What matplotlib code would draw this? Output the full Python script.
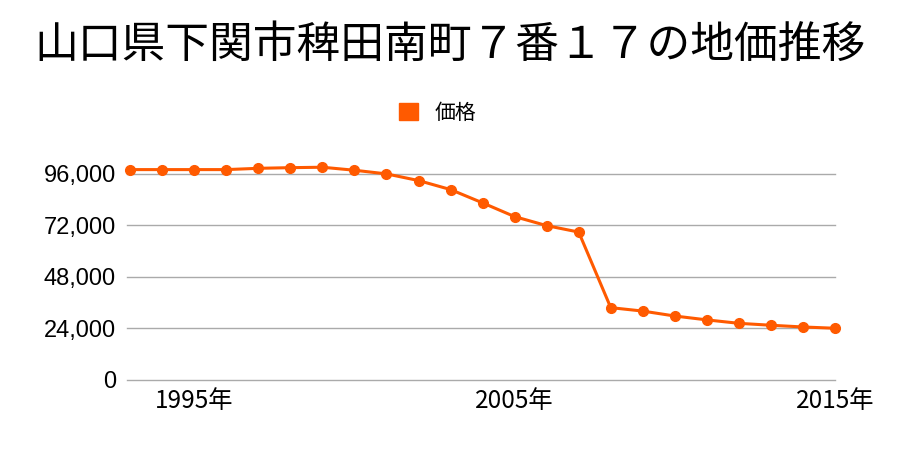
import matplotlib.pyplot as plt
from matplotlib.ticker import FuncFormatter

plt.rcParams['font.family'] = ['Noto Sans CJK JP', 'DejaVu Sans']

title = '山口県下関市稗田南町７番１７の地価推移'
series_name = '価格'
years = list(range(1993, 2016))
prices = [98000, 98000, 98000, 98000, 98600, 98900, 99100, 97700, 96000,
          92900, 88700, 82500, 76100, 71900, 68900, 33700, 32100, 29800,
          28000, 26400, 25500, 24700, 24100]
yticks = [0, 24000, 48000, 72000, 96000]
xticks = [1995, 2005, 2015]

color = '#ff5a00'

fig = plt.figure(figsize=(9, 4.5), dpi=100)
ax = fig.add_axes([127 / 900, 1 - 380 / 450, 708 / 900, 225 / 450])

ax.plot(years, prices, color=color, linewidth=2.2, marker='o', markersize=7,
        clip_on=False, zorder=3, label=series_name)

ax.set_xlim(1992.9, 2015)
ax.set_ylim(0, 104800)
ax.set_yticks(yticks)
ax.set_xticks(xticks)
ax.yaxis.set_major_formatter(FuncFormatter(lambda v, p: f'{int(v):,}'))
ax.set_xticklabels([f'{x}年' for x in xticks])
ax.grid(axis='y', color='#aaaaaa', linewidth=1)
for gl in ax.get_ygridlines():
    gl.set_clip_on(False)
ax.tick_params(length=0)
ax.tick_params(axis='y', pad=8)
ax.tick_params(axis='x', pad=6)
for lab in ax.get_yticklabels():
    lab.set_fontfamily(['Liberation Sans', 'DejaVu Sans'])
    lab.set_fontsize(17)
for lab in ax.get_xticklabels():
    lab.set_fontsize(17.5)
for s in ax.spines.values():
    s.set_visible(False)

fig.text(0.5, 0.9, title, ha='center', va='center', fontsize=31.5)
leg = fig.legend(handles=[plt.Rectangle((0, 0), 1, 1, color=color)],
                 labels=[series_name], loc='center', bbox_to_anchor=(0.486, 0.75),
                 frameon=False, fontsize=15, handlelength=0.9, handleheight=0.9,
                 handletextpad=0.8)

fig.savefig('out.png', dpi=100)
